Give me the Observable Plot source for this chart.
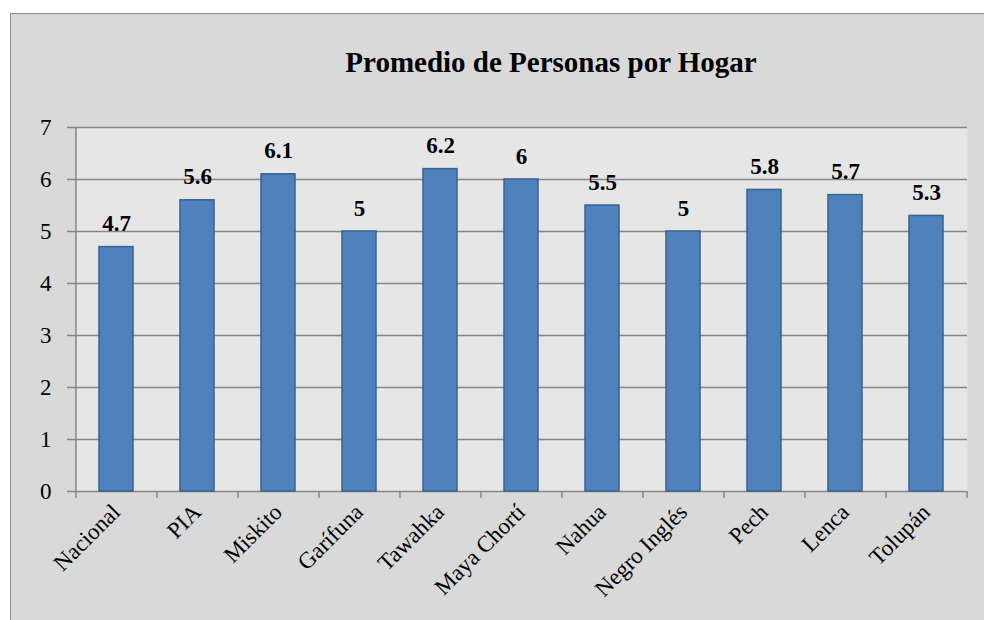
<!DOCTYPE html>
<html>
<head>
<meta charset="utf-8">
<script src="https://cdn.jsdelivr.net/npm/d3@7"></script>
<script src="https://cdn.jsdelivr.net/npm/@observablehq/plot@0.6"></script>
<style>
  html, body { margin: 0; padding: 0; background: #ffffff; }
  #wrap { position: relative; width: 984px; height: 620px; overflow: hidden; }
  #frame { position: absolute; left: 10px; top: 13px; width: 1200px; height: 800px;
           background: #d9d9d9; border: 1.5px solid #8c8c8c; box-sizing: border-box; }
  #title { position: absolute; left: 0; top: 48px; width: 1102px; text-align: center;
           font-family: "Liberation Serif", "Times New Roman", serif; font-weight: bold;
           font-size: 29px; line-height: 29px; color: #000; }
  #chart { position: absolute; left: 0; top: 0; }
  #chart svg text { font-family: "Liberation Serif", "Times New Roman", serif; }
</style>
</head>
<body>
<div id="wrap">
  <div id="frame"></div>
  <div id="title">Promedio de Personas por Hogar</div>
  <div id="chart"></div>
</div>
<script>
const categories = ["Nacional", "PIA", "Miskito", "Garífuna", "Tawahka", "Maya Chortí", "Nahua", "Negro Inglés", "Pech", "Lenca", "Tolupán"];
const values = [4.7, 5.6, 6.1, 5, 6.2, 6, 5.5, 5, 5.8, 5.7, 5.3];
const yTicks = [0, 1, 2, 3, 4, 5, 6, 7];

const data = categories.map((c, i) => ({cat: c, value: values[i]}));

const W = 984, H = 620;
const mL = 75, mR = 17, mT = 127, mB = 129;
const step = (W - mL - mR) / categories.length;
const font = "'Liberation Serif', 'Times New Roman', serif";
const gridColor = "#868686";

const chart = Plot.plot({
  width: W,
  height: H,
  marginLeft: mL,
  marginRight: mR,
  marginTop: mT,
  marginBottom: mB,
  style: { background: "transparent", fontFamily: font, color: "#000" },
  x: { domain: categories, paddingInner: 0.583, paddingOuter: 0.2915, axis: null },
  y: { domain: [0, 7], axis: null },
  marks: [
    Plot.frame({ fill: "#e6e6e6", stroke: null }),
    Plot.gridY(yTicks, { stroke: gridColor, strokeOpacity: 1, strokeWidth: 1.5 }),
    Plot.ruleX([categories[0]], { y1: 0, y2: 7, dx: -step / 2, stroke: gridColor, strokeWidth: 1.5 }),
    Plot.axisY(yTicks, { label: null, tickSize: 8, tickPadding: 16, fontSize: 23, fontFamily: font,
                         stroke: gridColor, strokeWidth: 1.5, tickFormat: d => String(d), fill: "#000" }),
    Plot.ruleX(categories, { y1: 0, y2: 0, insetBottom: -7, dx: -step / 2, stroke: gridColor, strokeWidth: 1.5 }),
    Plot.ruleX([categories[categories.length - 1]], { y1: 0, y2: 0, insetBottom: -7, dx: step / 2, stroke: gridColor, strokeWidth: 1.5 }),
    Plot.barY(data, { x: "cat", y: "value", fill: "#4f81bd", stroke: "#3b6290", strokeWidth: 1.5 }),
    Plot.text(data, { x: "cat", y: "value", text: d => String(d.value), lineAnchor: "bottom", dy: -16,
                      fontSize: 23, fontWeight: "bold", fontFamily: font, fill: "#000" }),
    Plot.text(categories, { x: d => d, y: () => 0, text: d => d, rotate: -45, textAnchor: "end",
                            lineAnchor: "bottom", dx: 5, dy: 22, fontSize: 23, fontFamily: font, fill: "#000" })
  ]
});
document.getElementById("chart").appendChild(chart);
</script>
</body>
</html>
